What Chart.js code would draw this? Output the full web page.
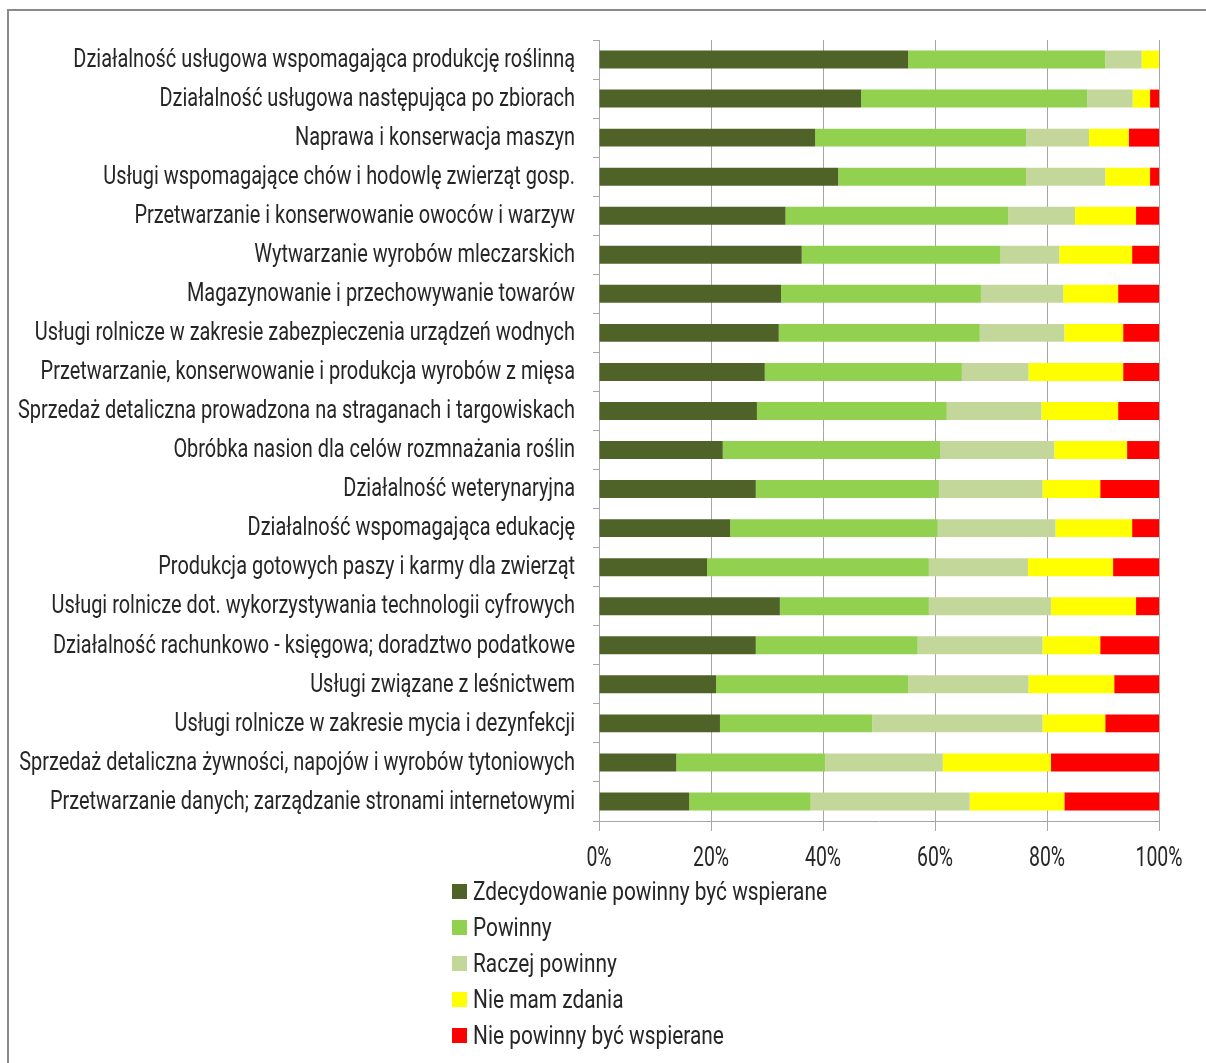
<!DOCTYPE html>
<html lang="pl">
<head>
    <meta charset="UTF-8">
    <title>Ocena wspierania usług</title>
    <script src="https://cdn.jsdelivr.net/npm/chart.js"></script>
    <style>
        body {
            margin: 0;
            width: 1206px;
            height: 1063px;
            overflow: hidden;
            background: #fff;
            position: relative;
            font-family: Roboto, sans-serif;
        }
        #frame {
            position: absolute;
            left: 7px;
            top: 9px;
            width: 1400px;
            height: 1200px;
            border: 2.5px solid #8a8a8a;
        }
        #wrap {
            position: absolute;
            left: 0;
            top: 0;
            width: 1206px;
            height: 880px;
        }
        #legend {
            position: absolute;
            left: 452px;
            top: 873px;
            margin: 0;
            padding: 0;
            list-style: none;
        }
        #legend li {
            display: flex;
            align-items: center;
            height: 36px;
            font-size: 25px;
            color: #262626;
            white-space: nowrap;
        }
        #legend span.box {
            display: inline-block;
            flex: none;
            width: 15px;
            height: 15px;
            margin-right: 6px;
        }
        #legend span.txt {
            display: inline-block;
            transform-origin: left center;
        }
    </style>
</head>
<body>
    <div id="frame"></div>
    <div id="wrap"><canvas id="chart" width="1206" height="880"></canvas></div>
    <ul id="legend"></ul>

    <script>
        const categories = [
            'Działalność usługowa wspomagająca produkcję roślinną',
            'Działalność usługowa następująca po zbiorach',
            'Naprawa i konserwacja maszyn',
            'Usługi wspomagające chów i hodowlę zwierząt gosp.',
            'Przetwarzanie i konserwowanie owoców i warzyw',
            'Wytwarzanie wyrobów mleczarskich',
            'Magazynowanie i przechowywanie towarów',
            'Usługi rolnicze w zakresie zabezpieczenia urządzeń wodnych',
            'Przetwarzanie, konserwowanie i produkcja wyrobów z mięsa',
            'Sprzedaż detaliczna prowadzona na straganach i targowiskach',
            'Obróbka nasion dla celów rozmnażania roślin',
            'Działalność weterynaryjna',
            'Działalność wspomagająca edukację',
            'Produkcja gotowych paszy i karmy dla zwierząt',
            'Usługi rolnicze dot. wykorzystywania technologii cyfrowych',
            'Działalność rachunkowo - księgowa; doradztwo podatkowe',
            'Usługi związane z leśnictwem',
            'Usługi rolnicze w zakresie mycia i dezynfekcji',
            'Sprzedaż detaliczna żywności, napojów i wyrobów tytoniowych',
            'Przetwarzanie danych; zarządzanie stronami internetowymi'
        ];

        // percentages
        const definitelyYes = [55.2, 46.8, 38.6, 42.7, 33.3, 36.2, 32.5, 32.1, 29.6, 28.2, 22.1, 28.0, 23.4, 19.3, 32.3, 28.0, 20.9, 21.6, 13.8, 16.1];
        const yes = [35.2, 40.4, 37.7, 33.6, 39.8, 35.5, 35.7, 35.9, 35.2, 33.9, 38.8, 32.7, 37.1, 39.6, 26.6, 28.9, 34.3, 27.2, 26.6, 21.7];
        const ratherYes = [6.5, 8.1, 11.2, 14.1, 11.9, 10.5, 14.7, 15.1, 11.9, 16.9, 20.4, 18.5, 21.0, 17.7, 21.8, 22.3, 21.5, 30.4, 21.0, 28.4];
        const noOpinion = [3.1, 3.1, 7.1, 8.0, 10.9, 13.0, 9.8, 10.5, 16.9, 13.7, 13.0, 10.3, 13.7, 15.2, 15.2, 10.3, 15.3, 11.2, 19.3, 16.9];
        const no = [0, 1.6, 5.4, 1.6, 4.1, 4.8, 7.3, 6.4, 6.4, 7.3, 5.7, 10.5, 4.8, 8.2, 4.1, 10.5, 8.0, 9.6, 19.3, 16.9];

        const seriesNames = ['Zdecydowanie powinny być wspierane', 'Powinny', 'Raczej powinny', 'Nie mam zdania', 'Nie powinny być wspierane'];
        const xTicks = [0, 20, 40, 60, 80, 100];

        const gridColor = '#a6a6a6';
        const textColor = '#262626';

        // the original uses a narrow font; squeeze Roboto horizontally instead
        const yLabelFont = '25px Roboto';
        const yLabelWidth = 557;   // width of the longest category label
        const xLabelFont = '28px Roboto';
        const xLabelWidth = 47;    // width of "100%"
        const legendFont = '25px Roboto';
        const legendWidth = 354;   // width of the first legend entry

        function squeeze(ctx, font, texts, target) {
            ctx.font = font;
            const w = Math.max(...texts.map(t => ctx.measureText(t).width));
            return target / w;
        }

        const narrowTicks = {
            id: 'narrowTicks',
            afterDraw(chart) {
                const { ctx, scales: { x, y } } = chart;
                ctx.save();
                ctx.fillStyle = textColor;

                const sy = squeeze(ctx, yLabelFont, categories, yLabelWidth);
                ctx.textAlign = 'right';
                ctx.textBaseline = 'middle';
                categories.forEach((label, i) => {
                    ctx.save();
                    ctx.translate(y.left + y.width - 24, y.getPixelForTick(i) + 1);
                    ctx.scale(sy, 1);
                    ctx.fillText(label, 0, 0);
                    ctx.restore();
                });

                const xLabels = xTicks.map(v => v + '%');
                const sx = squeeze(ctx, xLabelFont, xLabels, xLabelWidth);
                ctx.textAlign = 'center';
                xTicks.forEach((v, i) => {
                    ctx.save();
                    ctx.translate(x.getPixelForValue(v), x.top + 38);
                    ctx.scale(sx, 1);
                    ctx.fillText(xLabels[i], 0, 0);
                    ctx.restore();
                });
                ctx.restore();
            }
        };

        // html legend, one entry per line
        const htmlLegend = {
            id: 'htmlLegend',
            afterUpdate(chart) {
                const ul = document.getElementById('legend');
                ul.innerHTML = '';
                const s = squeeze(chart.ctx, legendFont, [seriesNames[0]], legendWidth);
                chart.data.datasets.forEach(ds => {
                    const li = document.createElement('li');
                    const box = document.createElement('span');
                    box.className = 'box';
                    box.style.background = ds.backgroundColor;
                    const txt = document.createElement('span');
                    txt.className = 'txt';
                    txt.style.transform = 'scaleX(' + s + ')';
                    txt.textContent = ds.label;
                    li.appendChild(box);
                    li.appendChild(txt);
                    ul.appendChild(li);
                });
            }
        };

        const ctx = document.getElementById('chart').getContext('2d');
        new Chart(ctx, {
            type: 'bar',
            data: {
                labels: categories,
                datasets: [
                    { label: seriesNames[0], data: definitelyYes, backgroundColor: '#4F6228' },
                    { label: seriesNames[1], data: yes, backgroundColor: '#92D050' },
                    { label: seriesNames[2], data: ratherYes, backgroundColor: '#C4D79B' },
                    { label: seriesNames[3], data: noOpinion, backgroundColor: '#FFFF00' },
                    { label: seriesNames[4], data: no, backgroundColor: '#FF0000' }
                ]
            },
            options: {
                indexAxis: 'y',
                responsive: false,
                animation: false,
                barPercentage: 0.46,
                categoryPercentage: 1,
                layout: {
                    padding: { left: 10, right: 47, top: 40, bottom: 0 }
                },
                plugins: {
                    legend: { display: false },
                    tooltip: { enabled: false }
                },
                scales: {
                    x: {
                        stacked: true,
                        min: 0,
                        max: 100,
                        afterBuildTicks: axis => {
                            axis.ticks = xTicks.map(v => ({ value: v }));
                        },
                        afterFit: axis => { axis.height = 59; },
                        ticks: { display: false },
                        grid: { color: gridColor, tickLength: 10 },
                        border: { color: gridColor }
                    },
                    y: {
                        stacked: true,
                        afterFit: axis => { axis.width = 589; },
                        ticks: { display: false, autoSkip: false },
                        grid: {
                            offset: true,
                            drawOnChartArea: false,
                            tickLength: 6,
                            color: gridColor
                        },
                        border: { color: gridColor }
                    }
                }
            },
            plugins: [narrowTicks, htmlLegend]
        });
    </script>
</body>
</html>
